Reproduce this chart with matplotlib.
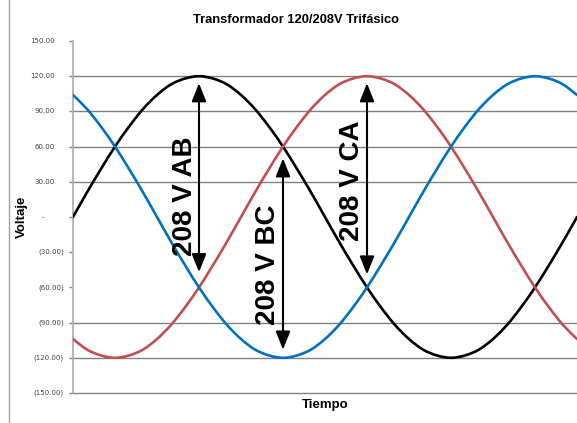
import matplotlib
matplotlib.use("Agg")
from matplotlib import pyplot as plt
from matplotlib.lines import Line2D
from matplotlib.path import Path
from matplotlib.patches import PathPatch

# tiempo (grados) y voltajes
tiempo = [0, 10, 20, 30, 40, 50, 60, 70, 80, 90, 100, 110, 120, 130, 140, 150, 160, 170, 180,
          190, 200, 210, 220, 230, 240, 250, 260, 270, 280, 290, 300, 310, 320, 330, 340, 350, 360]
v_negro = [0, 21, 41, 60, 77, 92, 104, 113, 118, 120, 118, 113, 104, 92, 77, 60, 41, 21, 0,
           -21, -41, -60, -77, -92, -104, -113, -118, -120, -118, -113, -104, -92, -77, -60, -41, -21, 0]
v_rojo = [-104, -113, -118, -120, -118, -113, -104, -92, -77, -60, -41, -21, 0, 21, 41, 60, 77, 92, 104,
          113, 118, 120, 118, 113, 104, 92, 77, 60, 41, 21, 0, -21, -41, -60, -77, -92, -104]
v_azul = [104, 92, 77, 60, 41, 21, 0, -21, -41, -60, -77, -92, -104, -113, -118, -120, -118, -113, -104,
          -92, -77, -60, -41, -21, 0, 21, 41, 60, 77, 92, 104, 113, 118, 120, 118, 113, 104]

yticks = [-150, -120, -90, -60, -30, 0, 30, 60, 90, 120, 150]
ytick_labels = ["(150.00)", "(120.00)", "(90.00)", "(60.00)", "(30.00)", "-",
                "30.00", "60.00", "90.00", "120.00", "150.00"]
grid_vals = [-150, -120, -90, 30, 60, 90, 120]

flechas_x = [90, 150, 210]
flechas_top = [114, 50, 114]
flechas_bottom = [-47, -113, -49]
flechas_txt = ["208 V AB", "208 V BC", "208 V CA"]
txt_x = [80, 139, 199]
txt_y = [18, -41, 31]


def linea_suave(ax, xs, ys, color):
    # curva suavizada tipo Excel (Catmull-Rom -> Bezier)
    pts = list(zip(xs, ys))
    verts = [pts[0]]
    codes = [Path.MOVETO]
    n = len(pts)
    for i in range(n - 1):
        p0 = pts[i - 1] if i > 0 else pts[i]
        p1 = pts[i]
        p2 = pts[i + 1]
        p3 = pts[i + 2] if i + 2 < n else pts[i + 1]
        c1 = (p1[0] + (p2[0] - p0[0]) / 6, p1[1] + (p2[1] - p0[1]) / 6)
        c2 = (p2[0] - (p3[0] - p1[0]) / 6, p2[1] - (p3[1] - p1[1]) / 6)
        verts += [c1, c2, p2]
        codes += [Path.CURVE4] * 3
    ax.add_patch(PathPatch(Path(verts, codes), fill=False, edgecolor=color,
                           lw=1.9, zorder=3, capstyle="round"))


fig = plt.figure(figsize=(5.77, 4.23), dpi=100)
ax = fig.add_axes([73 / 577, 30 / 423, 504 / 577, 352 / 423])

for g in grid_vals:
    ax.axhline(g, color="#808080", lw=1.0, zorder=1, clip_on=False)

linea_suave(ax, tiempo, v_negro, "black")
linea_suave(ax, tiempo, v_rojo, "#c0504d")
linea_suave(ax, tiempo, v_azul, "#0070c0")

ax.set_xlim(0, 360)
ax.set_ylim(-150, 150)
ax.set_xticks([])
ax.set_yticks(yticks)
ax.set_yticklabels([])
ax.tick_params(axis="y", length=3, color="#808080", width=1)
for s in ["top", "right", "bottom"]:
    ax.spines[s].set_visible(False)
ax.spines["left"].set_color("#b0b0b0")
ax.spines["left"].set_linewidth(1.3)

tr = ax.get_yaxis_transform()
for v, lab in zip(yticks, ytick_labels):
    if lab == "-":
        ax.text(-30 / 504, v, lab, transform=tr, ha="center", va="center",
                fontsize=5, color="#404040")
    elif lab.startswith("("):
        ax.text(-9 / 504, v, lab, transform=tr, ha="right", va="center",
                fontsize=5, color="#404040")
    else:
        ax.text(-18 / 504, v, lab, transform=tr, ha="right", va="center",
                fontsize=5, color="#404040")

for x, y0, y1 in zip(flechas_x, flechas_top, flechas_bottom):
    ax.annotate("", xy=(x, y0), xytext=(x, y1),
                arrowprops=dict(arrowstyle="<|-|>,head_length=0.55,head_width=0.22",
                                mutation_scale=20, lw=1.5, color="black",
                                shrinkA=0, shrinkB=0), zorder=4)
for x, y, t in zip(txt_x, txt_y, flechas_txt):
    ax.text(x, y, t, rotation=90, ha="center", va="center", fontsize=20,
            fontweight="bold", family="Liberation Sans", zorder=5)

fig.text(296 / 577, 1 - 20 / 423, "Transformador 120/208V Trifásico", ha="center",
         va="center", fontsize=9.3, fontweight="bold", family="Liberation Sans")
fig.text(325 / 577, 1 - 405 / 423, "Tiempo", ha="center", va="center",
         fontsize=9.5, fontweight="bold", family="Liberation Sans")
fig.text(22 / 577, 1 - 217 / 423, "Voltaje", ha="center", va="center", rotation=90,
         fontsize=9.5, fontweight="bold", family="Liberation Sans")

fig.add_artist(Line2D([8.5 / 577, 8.5 / 577], [0, 1], color="#a0a0a0", lw=1.0))

fig.savefig("out.png", dpi=100)
